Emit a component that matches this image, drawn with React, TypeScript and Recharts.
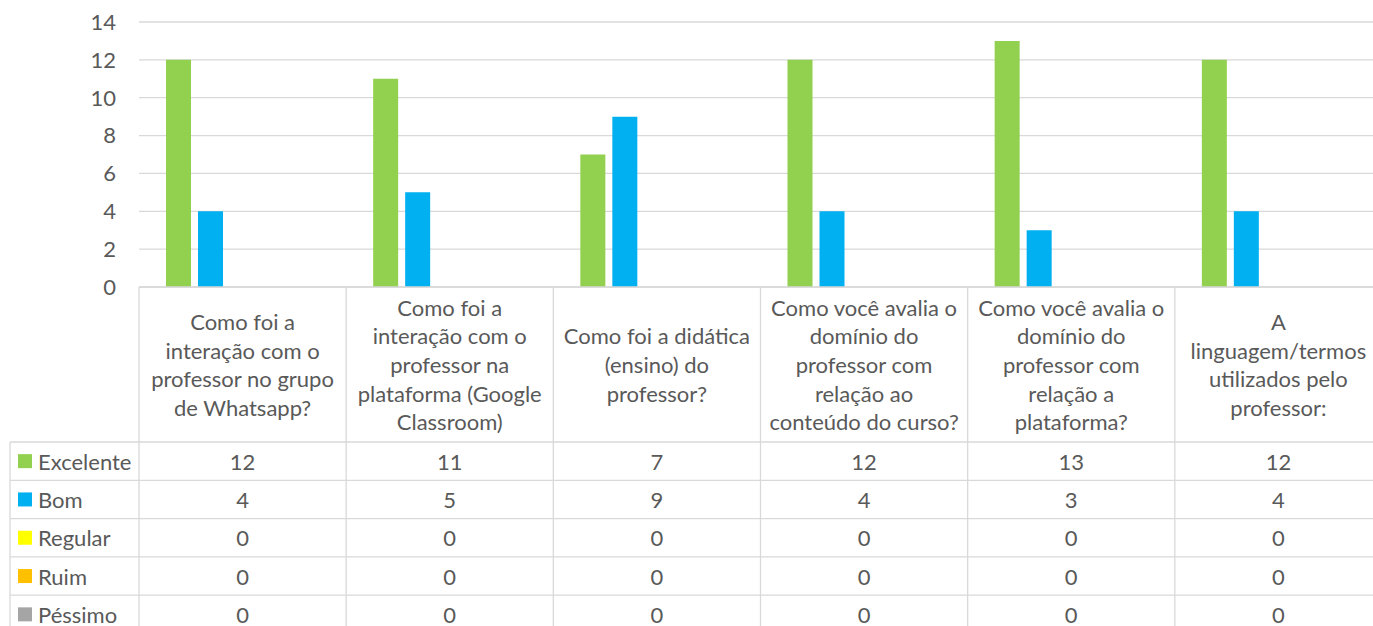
import { BarChart, Bar, XAxis, YAxis, CartesianGrid } from "recharts";

const categories: string[][] = [
    ["Como foi a", "interação com o", "professor no grupo", "de Whatsapp?"],
    ["Como foi a", "interação com o", "professor na", "plataforma (Google", "Classroom)"],
    ["Como foi a didática", "(ensino) do", "professor?"],
    ["Como você avalia o", "domínio do", "professor com", "relação ao", "conteúdo do curso?"],
    ["Como você avalia o", "domínio do", "professor com", "relação a", "plataforma?"],
    ["A", "linguagem/termos", "utilizados pelo", "professor:"],
];

const excelente = [12, 11, 7, 12, 13, 12];
const bom = [4, 5, 9, 4, 3, 4];
const regular = [0, 0, 0, 0, 0, 0];
const ruim = [0, 0, 0, 0, 0, 0];
const pessimo = [0, 0, 0, 0, 0, 0];

const yTicks = [0, 2, 4, 6, 8, 10, 12, 14];

const series = [
    { key: "excelente", name: "Excelente", values: excelente, color: "#92D050" },
    { key: "bom", name: "Bom", values: bom, color: "#00B0F0" },
    { key: "regular", name: "Regular", values: regular, color: "#FFFF00" },
    { key: "ruim", name: "Ruim", values: ruim, color: "#FFC000" },
    { key: "pessimo", name: "Péssimo", values: pessimo, color: "#A5A5A5" },
];

const data = categories.map((lines, i) => {
    const row: Record<string, number | string> = { name: String(i) };
    series.forEach((s) => {
        row[s.key] = s.values[i];
    });
    return row;
});

const CHART_W = 1400;
const CHART_H = 640;
const PLOT_LEFT = 139;
const PLOT_RIGHT = 1382;
const PLOT_TOP = 22;
const PLOT_BOTTOM = 287;
const BAND = (PLOT_RIGHT - PLOT_LEFT) / categories.length;
const HEADER_H = 155;
const ROW_H = 38.3;
const LINE_H = 28.7;
const TABLE_LEFT = 10;

const FONT = "Lato, 'Open Sans', sans-serif";
const FONT_SIZE = 22;
const TEXT = "#595959";
const BORDER = "#D9D9D9";

const TableTick = (props: any) => {
    const { x, y, payload } = props;
    const idx = Number(payload?.value ?? props.index ?? 0);
    const lines = categories[idx];
    const headerMid = y + HEADER_H / 2;
    const tableTop = y + HEADER_H;
    const left = x - BAND / 2;
    const right = x + BAND / 2;

    return (
        <g>
            <line x1={left} y1={y} x2={left} y2={CHART_H} stroke={BORDER} strokeWidth={1.3} />
            {idx === categories.length - 1 && (
                <line x1={right} y1={y} x2={right} y2={CHART_H} stroke={BORDER} strokeWidth={1.3} />
            )}
            {idx === 0 && (
                <g>
                    <line x1={TABLE_LEFT} y1={tableTop} x2={TABLE_LEFT} y2={CHART_H} stroke={BORDER} strokeWidth={1.3} />
                    {series.map((s, r) => (
                        <line
                            key={s.key}
                            x1={TABLE_LEFT}
                            y1={tableTop + r * ROW_H}
                            x2={PLOT_RIGHT}
                            y2={tableTop + r * ROW_H}
                            stroke={BORDER}
                            strokeWidth={1.3}
                        />
                    ))}
                    {series.map((s, r) => (
                        <g key={s.key + "-legend"}>
                            <rect x={18} y={tableTop + r * ROW_H + ROW_H / 2 - 7} width={14} height={14} fill={s.color} />
                            <text
                                x={38}
                                y={tableTop + r * ROW_H + ROW_H / 2}
                                dominantBaseline="central"
                                fill={TEXT}
                                fontSize={FONT_SIZE}
                                fontFamily={FONT}
                            >
                                {s.name}
                            </text>
                        </g>
                    ))}
                </g>
            )}
            <text textAnchor="middle" fill={TEXT} fontSize={FONT_SIZE} fontFamily={FONT}>
                {lines.map((ln, k) => (
                    <tspan
                        key={k}
                        x={x}
                        y={headerMid + (k - (lines.length - 1) / 2) * LINE_H}
                        dominantBaseline="central"
                    >
                        {ln}
                    </tspan>
                ))}
            </text>
            {series.map((s, r) => (
                <text
                    key={s.key}
                    x={x}
                    y={tableTop + r * ROW_H + ROW_H / 2}
                    textAnchor="middle"
                    dominantBaseline="central"
                    fill={TEXT}
                    fontSize={FONT_SIZE}
                    fontFamily={FONT}
                >
                    {s.values[idx]}
                </text>
            ))}
        </g>
    );
};

export default function App() {
    return (
        <div
            style={{
                position: "absolute",
                left: 0,
                top: 0,
                width: 1373,
                height: 626,
                overflow: "hidden",
                background: "#fff",
            }}
        >
            <BarChart
                width={CHART_W}
                height={CHART_H}
                data={data}
                margin={{ top: PLOT_TOP, right: CHART_W - PLOT_RIGHT, left: 0, bottom: 0 }}
                barSize={25}
                barGap={7}
            >
                <CartesianGrid vertical={false} stroke={BORDER} strokeWidth={1.3} />
                <XAxis
                    dataKey="name"
                    height={CHART_H - PLOT_BOTTOM - PLOT_TOP + PLOT_TOP}
                    interval={0}
                    tickLine={false}
                    tickSize={0}
                    tickMargin={0}
                    axisLine={{ stroke: BORDER, strokeWidth: 1.3 }}
                    tick={<TableTick />}
                />
                <YAxis
                    width={PLOT_LEFT}
                    domain={[0, 14]}
                    ticks={yTicks}
                    axisLine={false}
                    tickLine={false}
                    tickSize={0}
                    tickMargin={23}
                    tick={{ fill: TEXT, fontSize: FONT_SIZE, fontFamily: FONT }}
                />
                {series.map((s) => (
                    <Bar key={s.key} dataKey={s.key} name={s.name} fill={s.color} isAnimationActive={false} />
                ))}
            </BarChart>
        </div>
    );
}
